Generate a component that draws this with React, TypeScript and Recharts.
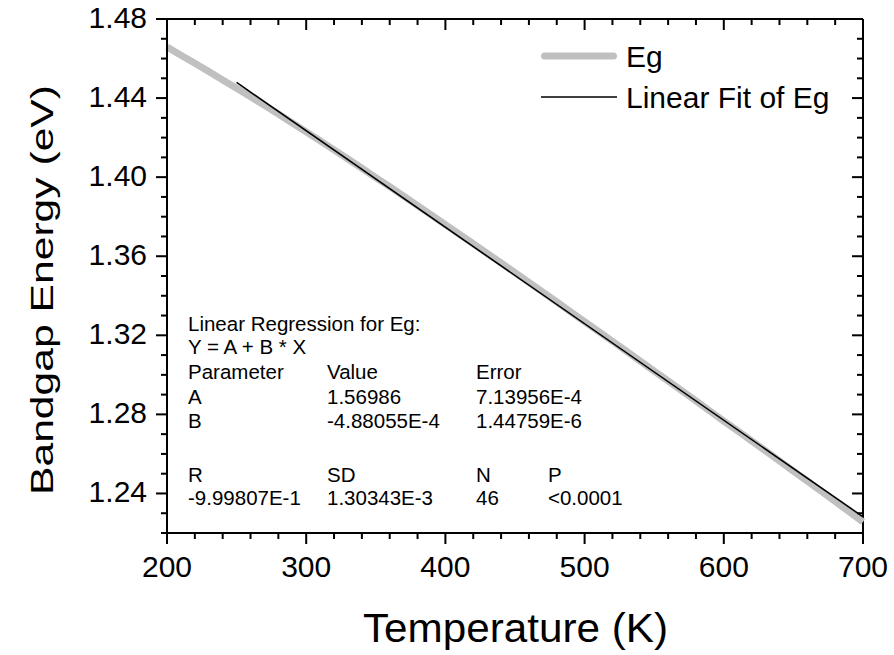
import { LineChart, Line, XAxis, YAxis, Label, ReferenceLine } from 'recharts';

const temps = [
    200, 210, 220, 230, 240, 250, 260, 270, 280, 290, 300, 310, 320, 330, 340, 350, 360,
    370, 380, 390, 400, 410, 420, 430, 440, 450, 460, 470, 480, 490, 500, 510, 520, 530,
    540, 550, 560, 570, 580, 590, 600, 610, 620, 630, 640, 650, 660, 670, 680, 690, 700
];
const egValues = [
    1.4658, 1.4617, 1.4576, 1.4534, 1.4492, 1.4450, 1.4407, 1.4363, 1.4319, 1.4274,
    1.4229, 1.4184, 1.4138, 1.4092, 1.4045, 1.3998, 1.3952, 1.3904, 1.3856, 1.3808,
    1.3760, 1.3712, 1.3664, 1.3615, 1.3566, 1.3517, 1.3468, 1.3419, 1.3369, 1.3319,
    1.3269, 1.3220, 1.3170, 1.3120, 1.3069, 1.3019, 1.2969, 1.2919, 1.2868, 1.2817,
    1.2766, 1.2717, 1.2666, 1.2615, 1.2564, 1.2513, 1.2462, 1.2411, 1.2360, 1.2308, 1.2256
];
const fitTemps = [250, 700];
const fitValues = [1.4479, 1.2282];

const xTicks = [200, 220, 240, 260, 280, 300, 320, 340, 360, 380, 400, 420, 440, 460, 480, 500, 520, 540, 560, 580, 600, 620, 640, 660, 680, 700];
const yTicks = [
    1.22, 1.23, 1.24, 1.25, 1.26, 1.27, 1.28, 1.29, 1.30, 1.31, 1.32, 1.33, 1.34, 1.35,
    1.36, 1.37, 1.38, 1.39, 1.40, 1.41, 1.42, 1.43, 1.44, 1.45, 1.46, 1.47, 1.48
];
const xTickLabels = ['200', '300', '400', '500', '600', '700'];
const yTickLabels = ['1.24', '1.28', '1.32', '1.36', '1.40', '1.44', '1.48'];

const statsRows = [
    ['Linear Regression for Eg:'],
    ['Y = A + B * X'],
    ['Parameter', 'Value', 'Error'],
    ['A', '1.56986', '7.13956E-4'],
    ['B', '-4.88055E-4', '1.44759E-6'],
    ['R', 'SD', 'N', 'P'],
    ['-9.99807E-1', '1.30343E-3', '46', '<0.0001']
];

const chartData = temps.map((t, i) => {
    const k = fitTemps.indexOf(t);
    return { t, eg: egValues[i], fit: k >= 0 ? fitValues[k] : null };
});

const FONT = '"Liberation Sans", Arial, sans-serif';
const EG_COLOR = '#c0c0c0';
const PLOT_TOP = 19;
const PLOT_RIGHT = 863;

const isMajorX = (v: number) => xTickLabels.includes(String(v));
const isMajorY = (v: number) => yTickLabels.includes(Number(v).toFixed(2));

const bottomTick = (props: any) => {
    const { x, y, payload } = props;
    const major = isMajorX(payload.value);
    return (
        <g>
            <rect x={x - 1} y={y} width={2} height={major ? 11 : 6} fill="#000" />
            <rect x={x - 1} y={PLOT_TOP} width={2} height={major ? 11 : 6} fill="#000" />
            {major && (
                <text x={x} y={y + 44} textAnchor="middle" fontSize={30} fontFamily={FONT} fill="#000">
                    {payload.value}
                </text>
            )}
        </g>
    );
};

const leftTick = (props: any) => {
    const { x, y, payload } = props;
    const major = isMajorY(payload.value);
    return (
        <g>
            <rect x={x - (major ? 11 : 6)} y={y - 1} width={major ? 11 : 6} height={2} fill="#000" />
            <rect x={PLOT_RIGHT - (major ? 11 : 6)} y={y - 1} width={major ? 11 : 6} height={2} fill="#000" />
            {major && (
                <text x={x - 20} y={y + 8.5} textAnchor="end" fontSize={30} fontFamily={FONT} fill="#000">
                    {Number(payload.value).toFixed(2)}
                </text>
            )}
        </g>
    );
};

const axisTitles = () => (
    <g>
        <text x={515.5} y={642} textAnchor="middle" fontSize={40} fontFamily={FONT}
            textLength={305} lengthAdjust="spacingAndGlyphs" fill="#000">
            Temperature (K)
        </text>
        <text x={53} y={290} transform="rotate(-90 53 290)" textAnchor="middle" fontSize={31}
            fontFamily={FONT} textLength={410} lengthAdjust="spacingAndGlyphs" fill="#000">
            Bandgap Energy (eV)
        </text>
    </g>
);

const statCols = [188, 327, 476, 548];
const statCenters = [324, 347, 372, 397, 421, 475, 498];

export default function App() {
    return (
        <div style={{ position: 'absolute', left: 0, top: 0 }}>
            <LineChart width={894} height={655} data={chartData} margin={{ top: PLOT_TOP, right: 31, bottom: 0, left: 0 }}>
                <XAxis
                    dataKey="t"
                    type="number"
                    domain={[200, 700]}
                    ticks={xTicks}
                    interval={0}
                    height={122}
                    tickSize={0}
                    tickMargin={0}
                    tickLine={false}
                    axisLine={{ stroke: '#000', strokeWidth: 2 }}
                    tick={bottomTick}
                >
                    <Label content={axisTitles} />
                </XAxis>
                <YAxis
                    type="number"
                    domain={[1.22, 1.48]}
                    ticks={yTicks}
                    interval={0}
                    width={167}
                    tickSize={0}
                    tickMargin={0}
                    tickLine={false}
                    axisLine={{ stroke: '#000', strokeWidth: 2 }}
                    tick={leftTick}
                />
                <ReferenceLine y={1.48} stroke="#000" strokeWidth={2} />
                <ReferenceLine x={700} stroke="#000" strokeWidth={2} />
                <Line
                    dataKey="eg"
                    name="Eg"
                    stroke={EG_COLOR}
                    strokeWidth={7}
                    dot={false}
                    activeDot={false}
                    isAnimationActive={false}
                />
                <Line
                    dataKey="fit"
                    name="Linear Fit of Eg"
                    stroke="#000"
                    strokeWidth={1.6}
                    connectNulls
                    dot={false}
                    activeDot={false}
                    isAnimationActive={false}
                />
            </LineChart>

            {/* legend */}
            <div style={{ position: 'absolute', left: 530, top: 35, width: 330, height: 85 }}>
                <svg width={330} height={85}>
                    <line x1={14.5} x2={83.5} y1={21} y2={21} stroke={EG_COLOR} strokeWidth={7} strokeLinecap="round" />
                    <text x={96} y={31.5} fontSize={30} fontFamily={FONT} fill="#000">Eg</text>
                    <line x1={11} x2={87} y1={62} y2={62} stroke="#000" strokeWidth={1.6} />
                    <text x={96} y={72.5} fontSize={30} fontFamily={FONT} fill="#000">Linear Fit of Eg</text>
                </svg>
            </div>

            {/* regression results */}
            {statsRows.map((row, r) =>
                row.map((cell, c) => (
                    <div
                        key={r + '-' + c}
                        style={{
                            position: 'absolute',
                            left: statCols[c],
                            top: statCenters[r] - 10,
                            fontSize: 20.5,
                            lineHeight: 1,
                            fontFamily: FONT,
                            whiteSpace: 'nowrap',
                            color: '#000'
                        }}
                    >
                        {cell}
                    </div>
                ))
            )}
        </div>
    );
}
